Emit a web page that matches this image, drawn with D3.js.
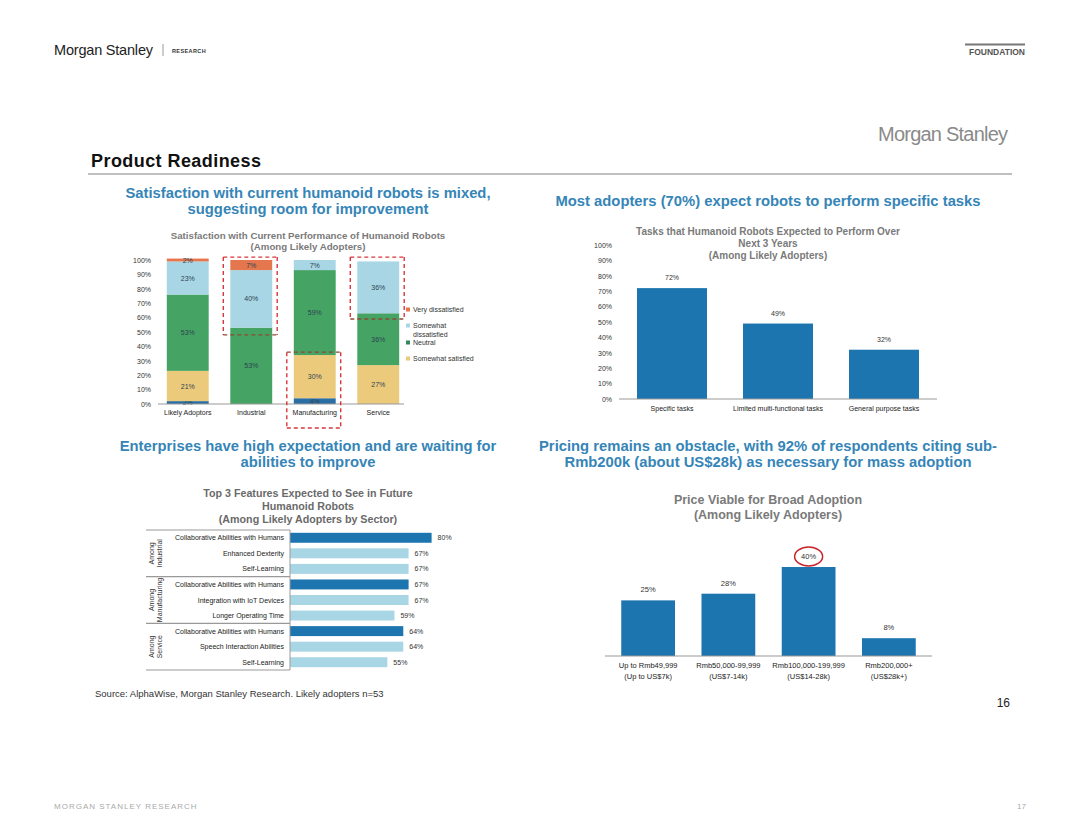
<!DOCTYPE html>
<html>
<head>
<meta charset="utf-8">
<script src="https://cdn.jsdelivr.net/npm/d3@7"></script>
<style>
  body { margin: 0; background: #fff; }
  svg { display: block; font-family: "Liberation Sans", Arial, sans-serif; }
</style>
</head>
<body>
<svg id="slide" width="1080" height="834"></svg>
<script>
// ---- data ----
const satCategories = ["Likely Adoptors", "Industrial", "Manufacturing", "Service"];
const satLevels = ["Very satisfied", "Somewhat satisfied", "Neutral", "Somewhat dissatisfied", "Very dissatisfied"];
const verySatisfied = [2, 0, 4, 0];
const somewhatSatisfied = [21, 0, 30, 27];
const neutral = [53, 53, 59, 36];
const somewhatDissatisfied = [23, 40, 7, 36];
const veryDissatisfied = [2, 7, 0, 0];
const satLegend = ["Very dissatisfied", "Somewhat dissatisfied", "Neutral", "Somewhat satisfied"];
const pctTicks = [0, 10, 20, 30, 40, 50, 60, 70, 80, 90, 100];

const taskCategories = ["Specific tasks", "Limited multi-functional tasks", "General purpose tasks"];
const taskValues = [72, 49, 32];

const featureGroups = [["Among", "Industrial"], ["Among", "Manufacturing"], ["Among", "Service"]];
const featureLabels = ["Collaborative Abilities with Humans", "Enhanced Dexterity", "Self-Learning",
  "Collaborative Abilities with Humans", "Integration with IoT Devices", "Longer Operating Time",
  "Collaborative Abilities with Humans", "Speech Interaction Abilities", "Self-Learning"];
const featureValues = [80, 67, 67, 67, 67, 59, 64, 64, 55];

const priceCategories = [["Up to Rmb49,999", "(Up to US$7k)"], ["Rmb50,000-99,999", "(US$7-14k)"],
  ["Rmb100,000-199,999", "(US$14-28k)"], ["Rmb200,000+", "(US$28k+)"]];
const priceValues = [25, 28, 40, 8];

const svg = d3.select("#slide");
const headBlue = "#3585b7";
const barBlue = "#1c75ae";
const lightBlue = "#a9d6e4";
const satColors = ["#2a6fa3", "#ecca7c", "#45a363", "#a9d6e4", "#e5774f"];

// ---- slide chrome ----
function txt(x, y, s, opts) {
    const t = svg.append("text").attr("x", x).attr("y", y).text(s);
    Object.keys(opts || {}).forEach(function (k) { t.attr(k, opts[k]); });
    return t;
}
txt(54, 55, "Morgan Stanley", {"font-size": 14.5, fill: "#222", "font-family": "Liberation Sans Narrow, Liberation Sans", textLength: 99});
svg.append("line").attr("x1", 163).attr("x2", 163).attr("y1", 44).attr("y2", 56).attr("stroke", "#999");
txt(172, 53, "RESEARCH", {"font-size": 5.5, "font-weight": "bold", fill: "#333", "letter-spacing": 0.4});
svg.append("line").attr("x1", 965).attr("x2", 1025).attr("y1", 44.5).attr("y2", 44.5).attr("stroke", "#777").attr("stroke-width", 1.8);
txt(1025, 55, "FOUNDATION", {"font-size": 8.5, "font-weight": "bold", fill: "#555", "text-anchor": "end"});

txt(1008, 141, "Morgan Stanley", {"font-size": 20, fill: "#8a8a8a", "text-anchor": "end", "font-family": "Liberation Sans Narrow, Liberation Sans", textLength: 130});
txt(91, 167, "Product Readiness", {"font-size": 18, "font-weight": "bold", fill: "#111", textLength: 170});
svg.append("line").attr("x1", 88).attr("x2", 1012).attr("y1", 174).attr("y2", 174).attr("stroke", "#aaa").attr("stroke-width", 1.5);

function heading(cx, ys, lines) {
    lines.forEach(function (l, i) {
        txt(cx, ys[i], l, {"font-size": 14.8, "font-weight": "bold", fill: headBlue, "text-anchor": "middle"});
    });
}
heading(308, [198, 214], ["Satisfaction with current humanoid robots is mixed,", "suggesting room for improvement"]);
heading(768, [206], ["Most adopters (70%) expect robots to perform specific tasks"]);
heading(308, [451, 467], ["Enterprises have high expectation and are waiting for", "abilities to improve"]);
heading(768, [451, 467], ["Pricing remains an obstacle, with 92% of respondents citing sub-", "Rmb200k (about US$28k) as necessary for mass adoption"]);

txt(95, 697, "Source:  AlphaWise, Morgan Stanley Research. Likely adopters n=53", {"font-size": 9.5, fill: "#333"});
txt(1010, 707, "16", {"font-size": 12, fill: "#222", "text-anchor": "end"});
txt(54, 809, "MORGAN STANLEY RESEARCH", {"font-size": 8, fill: "#aaa", "letter-spacing": 1});
txt(1026, 809, "17", {"font-size": 8, fill: "#aaa", "text-anchor": "end"});

function chartTitle(cx, ys, lines, size, color) {
    lines.forEach(function (l, i) {
        txt(cx, ys[i], l, {"font-size": size, "font-weight": "bold", fill: color, "text-anchor": "middle"});
    });
}

// ---- chart 1: stacked satisfaction ----
chartTitle(308, [239, 250], ["Satisfaction with Current Performance of Humanoid Robots", "(Among Likely Adopters)"], 9.7, "#7a7a7a");

const sx = d3.scaleBand().domain(satCategories).range([156, 410]).paddingInner(0.34).paddingOuter(0.17);
const sy = d3.scaleLinear().domain([0, 100]).range([404, 260]);

const satRows = satCategories.map(function (c, i) {
    return {cat: c, "Very satisfied": verySatisfied[i], "Somewhat satisfied": somewhatSatisfied[i],
        "Neutral": neutral[i], "Somewhat dissatisfied": somewhatDissatisfied[i], "Very dissatisfied": veryDissatisfied[i]};
});
const stack = d3.stack().keys(satLevels)(satRows);

const c1 = svg.append("g");
c1.append("g").attr("transform", "translate(155,0)")
    .call(d3.axisLeft(sy).tickValues(pctTicks).tickFormat(function (d) { return d + "%"; }).tickSize(0).tickPadding(4))
    .call(function (g) { g.select(".domain").remove(); })
    .selectAll("text").attr("font-size", 7).attr("fill", "#333").attr("font-family", "Liberation Sans");

stack.forEach(function (layer, li) {
    const g = c1.append("g");
    layer.forEach(function (d, i) {
        const v = d[1] - d[0];
        if (v <= 0) return;
        g.append("rect").attr("x", sx(satCategories[i])).attr("width", sx.bandwidth())
            .attr("y", sy(d[1])).attr("height", sy(d[0]) - sy(d[1])).attr("fill", satColors[li]);
        g.append("text").attr("x", sx(satCategories[i]) + sx.bandwidth() / 2)
            .attr("y", (sy(d[0]) + sy(d[1])) / 2 + 2.5).attr("text-anchor", "middle")
            .attr("font-size", 7).attr("fill", "#2d4452").text(v + "%");
    });
});
c1.append("line").attr("x1", 158).attr("x2", 404).attr("y1", sy(0)).attr("y2", sy(0)).attr("stroke", "#999");
c1.append("g").attr("transform", "translate(0," + sy(0) + ")")
    .call(d3.axisBottom(sx).tickSize(0).tickPadding(6))
    .call(function (g) { g.select(".domain").remove(); })
    .selectAll("text").attr("font-size", 7).attr("fill", "#222").attr("font-family", "Liberation Sans");

// dashed highlight boxes
const boxes = [{cat: "Industrial", lo: 48, hi: 102, edge: "bottom", extra: 0},
    {cat: "Manufacturing", lo: 0, hi: 36, edge: "top", extra: 24},
    {cat: "Service", lo: 59, hi: 102, edge: "bottom", extra: 0}];
boxes.forEach(function (b) {
    const x0 = sx(b.cat) - 7, x1 = sx(b.cat) + sx.bandwidth() + 5;
    const y0 = sy(b.hi), y1 = sy(b.lo) + b.extra;
    const dash = "4,3";
    const red = "#d8383c", dark = "#8e4a35";
    const seg = function (xa, ya, xb, yb, col) {
        c1.append("line").attr("x1", xa).attr("y1", ya).attr("x2", xb).attr("y2", yb)
            .attr("stroke", col).attr("stroke-width", 1.4).attr("stroke-dasharray", dash);
    };
    seg(x0, y0, x0, y1, red);
    seg(x1, y0, x1, y1, red);
    seg(x0, y0, x1, y0, b.edge === "top" ? dark : red);
    seg(x0, y1, x1, y1, b.edge === "bottom" ? dark : red);
});

// legend
const legColors = [satColors[4], satColors[3], "#2f8a63", satColors[1]];
const legY = [312, 328, 345, 361];
satLegend.forEach(function (name, i) {
    c1.append("rect").attr("x", 406).attr("y", legY[i] - 4.5).attr("width", 4).attr("height", 4).attr("fill", legColors[i]);
    if (name === "Somewhat dissatisfied") {
        txt(413, legY[i], "Somewhat", {"font-size": 7, fill: "#333"});
        txt(413, legY[i] + 9, "dissatisfied", {"font-size": 7, fill: "#333"});
    } else {
        txt(413, legY[i], name, {"font-size": 7, fill: "#333"});
    }
});

// ---- chart 2: tasks ----
chartTitle(768, [235, 247, 259], ["Tasks that Humanoid Robots Expected to Perform Over", "Next 3 Years", "(Among Likely Adopters)"], 10, "#7a7a7a");
const tx = d3.scaleBand().domain(taskCategories).range([619, 937]).paddingInner(0.34).paddingOuter(0.17);
const ty = d3.scaleLinear().domain([0, 100]).range([399, 245]);
const c2 = svg.append("g");
c2.append("g").attr("transform", "translate(615,0)")
    .call(d3.axisLeft(ty).tickValues(pctTicks).tickFormat(function (d) { return d + "%"; }).tickSize(0).tickPadding(3))
    .call(function (g) { g.select(".domain").remove(); })
    .selectAll("text").attr("font-size", 7).attr("fill", "#333").attr("font-family", "Liberation Sans");
c2.selectAll("rect.bar").data(taskValues).enter().append("rect")
    .attr("x", function (d, i) { return tx(taskCategories[i]); })
    .attr("width", tx.bandwidth())
    .attr("y", function (d) { return ty(d); })
    .attr("height", function (d) { return ty(0) - ty(d); })
    .attr("fill", barBlue);
c2.selectAll("text.val").data(taskValues).enter().append("text")
    .attr("x", function (d, i) { return tx(taskCategories[i]) + tx.bandwidth() / 2; })
    .attr("y", function (d) { return ty(d) - 8; })
    .attr("text-anchor", "middle").attr("font-size", 7).attr("fill", "#333")
    .text(function (d) { return d + "%"; });
c2.append("line").attr("x1", 619).attr("x2", 937).attr("y1", ty(0)).attr("y2", ty(0)).attr("stroke", "#999");
c2.append("g").attr("transform", "translate(0," + ty(0) + ")")
    .call(d3.axisBottom(tx).tickSize(0).tickPadding(7))
    .call(function (g) { g.select(".domain").remove(); })
    .selectAll("text").attr("font-size", 7).attr("fill", "#222").attr("font-family", "Liberation Sans");

// ---- chart 3: features ----
chartTitle(308, [497, 510, 523], ["Top 3 Features Expected to See in Future", "Humanoid Robots", "(Among Likely Adopters by Sector)"], 10.7, "#6a6a6a");
const rows = d3.range(featureValues.length);
const fx = d3.scaleLinear().domain([0, 100]).range([290, 467]);
const fy = d3.scaleBand().domain(rows).range([530, 670]).paddingInner(0.36).paddingOuter(0.18);
const c3 = svg.append("g");
c3.selectAll("rect.f").data(featureValues).enter().append("rect")
    .attr("x", fx(0))
    .attr("y", function (d, i) { return fy(i); })
    .attr("width", function (d) { return fx(d) - fx(0); })
    .attr("height", fy.bandwidth())
    .attr("fill", function (d, i) { return i % 3 === 0 ? barBlue : lightBlue; });
c3.selectAll("text.fv").data(featureValues).enter().append("text")
    .attr("x", function (d) { return fx(d) + 6; })
    .attr("y", function (d, i) { return fy(i) + fy.bandwidth() / 2 + 2.5; })
    .attr("font-size", 7).attr("fill", "#333")
    .text(function (d) { return d + "%"; });
c3.selectAll("text.fl").data(featureLabels).enter().append("text")
    .attr("x", 284)
    .attr("y", function (d, i) { return fy(i) + fy.bandwidth() / 2 + 2.5; })
    .attr("text-anchor", "end").attr("font-size", 7).attr("fill", "#222")
    .text(function (d) { return d; });
const step = fy.step();
[0, 3, 6, 9].forEach(function (k) {
    const yy = 530 + k * step;
    c3.append("line").attr("x1", 146).attr("x2", 290).attr("y1", yy).attr("y2", yy)
        .attr("stroke", "#999").attr("stroke-width", 1.2);
});
c3.append("line").attr("x1", 290).attr("x2", 290).attr("y1", 530).attr("y2", 670).attr("stroke", "#999");
featureGroups.forEach(function (g, gi) {
    const cy = 530 + (gi * 3 + 1.5) * step;
    const t = c3.append("text").attr("transform", "translate(155," + cy + ") rotate(-90)")
        .attr("text-anchor", "middle").attr("font-size", 7).attr("fill", "#333");
    t.append("tspan").attr("x", 0).attr("dy", -1).text(g[0]);
    t.append("tspan").attr("x", 0).attr("dy", 8).text(g[1]);
});

// ---- chart 4: price ----
chartTitle(768, [504, 519], ["Price Viable for Broad Adoption", "(Among Likely Adopters)"], 12.5, "#7a7a7a");
const px = d3.scaleBand().domain(d3.range(priceValues.length)).range([608, 929]).paddingInner(0.33).paddingOuter(0.165);
const py = d3.scaleLinear().domain([0, 40]).range([656, 567]);
const c4 = svg.append("g");
c4.selectAll("rect.p").data(priceValues).enter().append("rect")
    .attr("x", function (d, i) { return px(i); })
    .attr("width", px.bandwidth())
    .attr("y", function (d) { return py(d); })
    .attr("height", function (d) { return py(0) - py(d); })
    .attr("fill", barBlue);
c4.selectAll("text.pv").data(priceValues).enter().append("text")
    .attr("x", function (d, i) { return px(i) + px.bandwidth() / 2; })
    .attr("y", function (d) { return py(d) - 8; })
    .attr("text-anchor", "middle").attr("font-size", 7.5).attr("fill", "#333")
    .text(function (d) { return d + "%"; });
c4.append("line").attr("x1", 605).attr("x2", 932).attr("y1", py(0)).attr("y2", py(0)).attr("stroke", "#999");
priceCategories.forEach(function (lines, i) {
    lines.forEach(function (l, j) {
        c4.append("text").attr("x", px(i) + px.bandwidth() / 2).attr("y", 668 + j * 10.5)
            .attr("text-anchor", "middle").attr("font-size", 7.5).attr("fill", "#222").text(l);
    });
});
const maxI = priceValues.indexOf(d3.max(priceValues));
c4.append("ellipse").attr("cx", px(maxI) + px.bandwidth() / 2).attr("cy", py(priceValues[maxI]) - 10.5)
    .attr("rx", 14).attr("ry", 9.5).attr("fill", "none").attr("stroke", "#c8262c").attr("stroke-width", 1.5);
</script>
</body>
</html>
